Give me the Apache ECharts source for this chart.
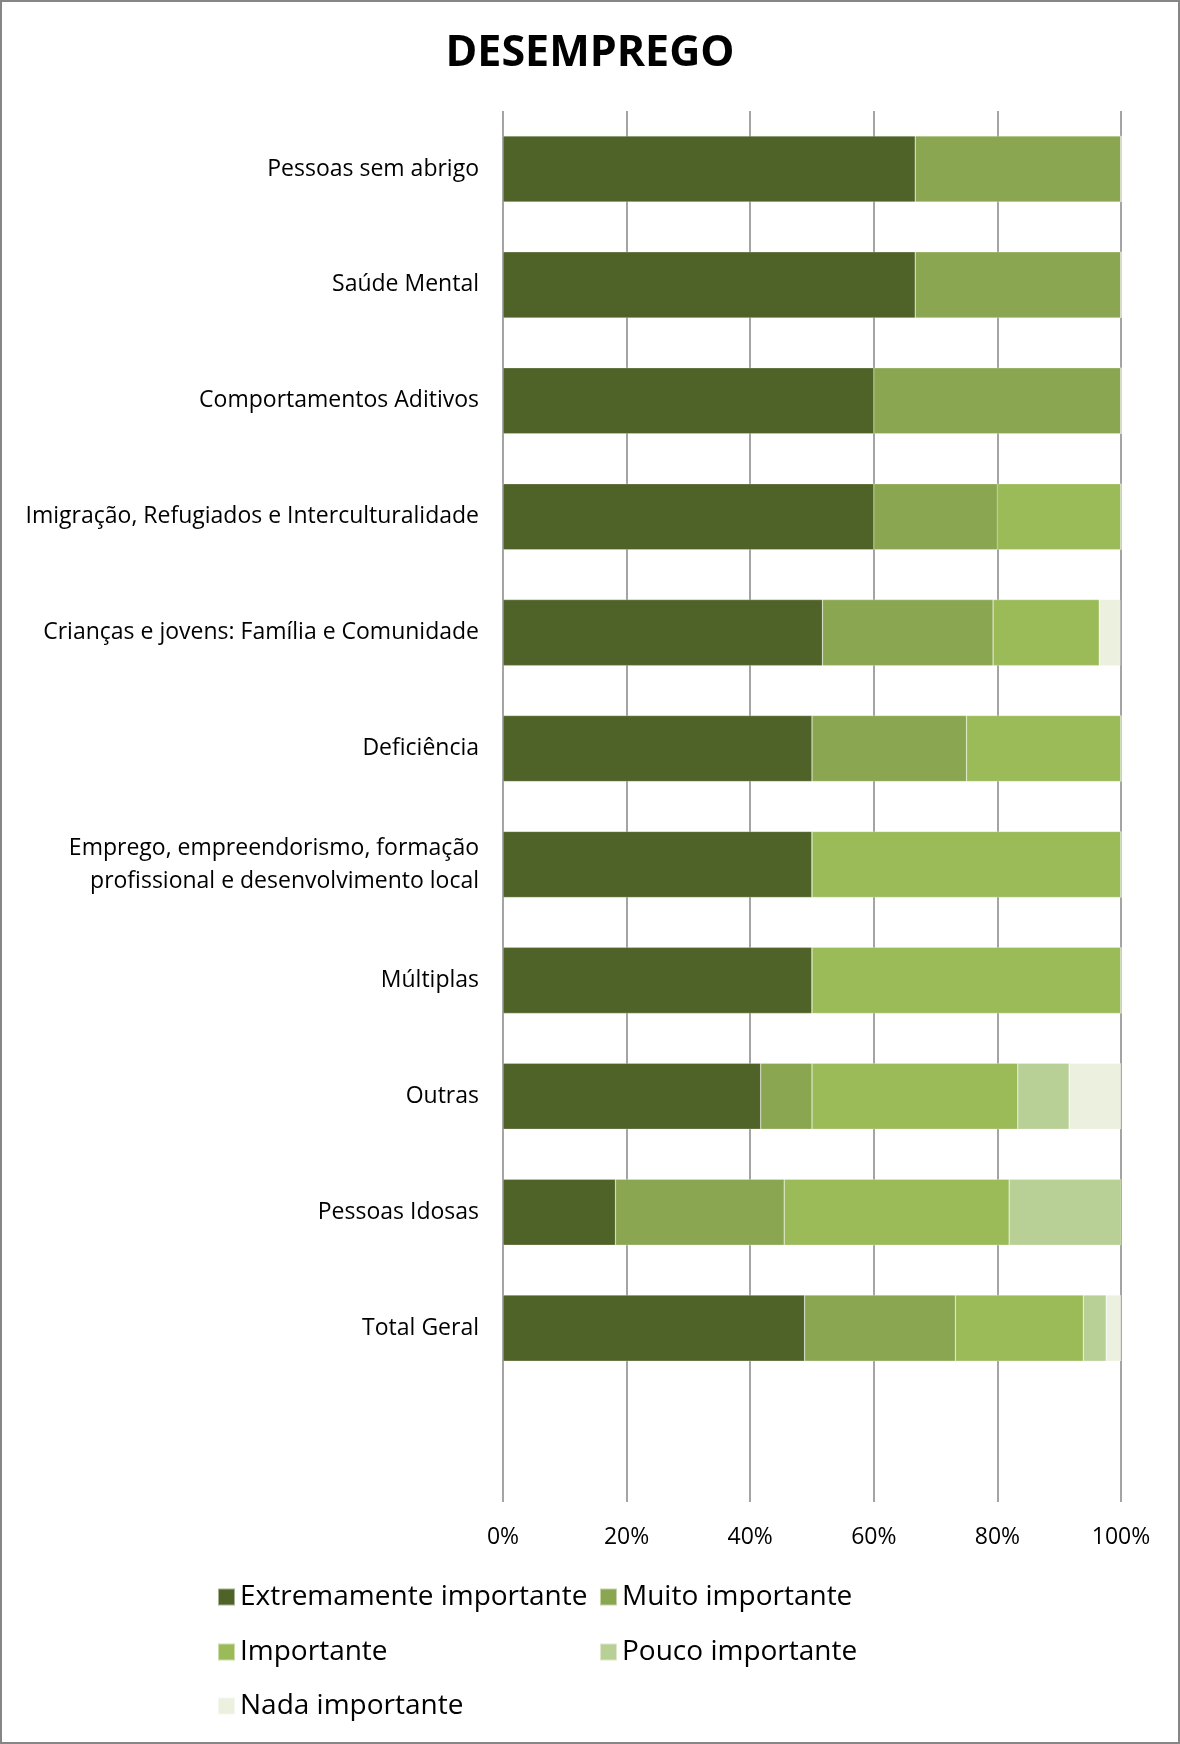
<!DOCTYPE html>
<html>
<head>
<meta charset="utf-8">
<script src="https://cdn.jsdelivr.net/npm/echarts@6/dist/echarts.min.js"></script>
<style>
  body { margin: 0; background: #fff; }
  #wrap { position: relative; width: 1180px; height: 1744px; }
  #myChart { width: 1180px; height: 1744px; }
  #frame {
    position: absolute; left: 0; top: 0; width: 1180px; height: 1744px;
    box-sizing: border-box; border: 2px solid #868686; pointer-events: none;
  }
</style>
</head>
<body>
<div id="wrap">
  <div id="myChart"></div>
  <div id="frame"></div>
</div>
<script>
  // categorias (a última fica vazia, como no original)
  var categorias = [
    'Pessoas sem abrigo',
    'Saúde Mental',
    'Comportamentos Aditivos',
    'Imigração, Refugiados e Interculturalidade',
    'Crianças e jovens: Família e Comunidade',
    'Deficiência',
    'Emprego, empreendorismo, formação\nprofissional e desenvolvimento local',
    'Múltiplas',
    'Outras',
    'Pessoas Idosas',
    'Total Geral',
    ''
  ]
  var xTicks = [0, 20, 40, 60, 80, 100]

  // percentagens por nível de importância
  var extremamente = [66.7, 66.7, 60, 60, 51.7, 50, 50, 50, 41.7, 18.2, 48.8]
  var muito        = [33.3, 33.3, 40, 20, 27.6, 25, 0, 0, 8.3, 27.3, 24.4]
  var importante   = [0, 0, 0, 20, 17.2, 25, 50, 50, 33.3, 36.4, 20.7]
  var pouco        = [0, 0, 0, 0, 0, 0, 0, 0, 8.3, 18.2, 3.7]
  var nada         = [0, 0, 0, 0, 3.4, 0, 0, 0, 8.4, 0, 2.4]

  var nomes = ['Extremamente importante', 'Muito importante', 'Importante', 'Pouco importante', 'Nada importante']
  var cores = ['#4F6228', '#8AA650', '#9BBB59', '#B8CF96', '#EBF1DE']
  var valores = [extremamente, muito, importante, pouco, nada]

  var fonte = '"Open Sans", "Liberation Sans", sans-serif'

  // legendas posicionadas em duas colunas
  var legPos = [
    { left: 212, top: 1578 },
    { left: 594, top: 1578 },
    { left: 212, top: 1633 },
    { left: 594, top: 1633 },
    { left: 212, top: 1687 }
  ]
  var legends = nomes.map(function (n, i) {
    return {
      data: [n],
      left: legPos[i].left,
      top: legPos[i].top,
      icon: 'rect',
      itemWidth: 17,
      itemHeight: 17,
      selectedMode: false,
      textStyle: { fontFamily: fonte, fontSize: 28, color: '#000' }
    }
  })

  var series = nomes.map(function (n, i) {
    return {
      name: n,
      type: 'bar',
      stack: 'total',
      barCategoryGap: '43%',
      itemStyle: { color: cores[i], borderColor: 'rgba(255,255,255,0.5)', borderWidth: 0.5 },
      data: valores[i]
    }
  })

  var myChart = echarts.init(document.getElementById('myChart'))
  myChart.setOption({
    animation: false,
    title: {
      text: 'DESEMPREGO',
      left: 'center',
      top: 27,
      textStyle: { fontFamily: fonte, fontSize: 43, fontWeight: 'bold', color: '#000' }
    },
    legend: legends,
    grid: { left: 503, right: 59, top: 111, bottom: 242 },
    xAxis: {
      type: 'value',
      min: xTicks[0],
      max: xTicks[xTicks.length - 1],
      interval: xTicks[1] - xTicks[0],
      axisLine: { show: false },
      axisTick: { show: false },
      splitLine: { show: true, lineStyle: { color: '#868686', width: 1.5 } },
      axisLabel: {
        margin: 24,
        fontFamily: fonte,
        fontSize: 23,
        color: '#000',
        formatter: '{value}%'
      }
    },
    yAxis: {
      type: 'category',
      inverse: true,
      data: categorias,
      axisLine: { show: false },
      axisTick: { show: false },
      axisLabel: {
        margin: 24,
        fontFamily: fonte,
        fontSize: 23,
        lineHeight: 33,
        color: '#000'
      }
    },
    series: series
  })
</script>
</body>
</html>
